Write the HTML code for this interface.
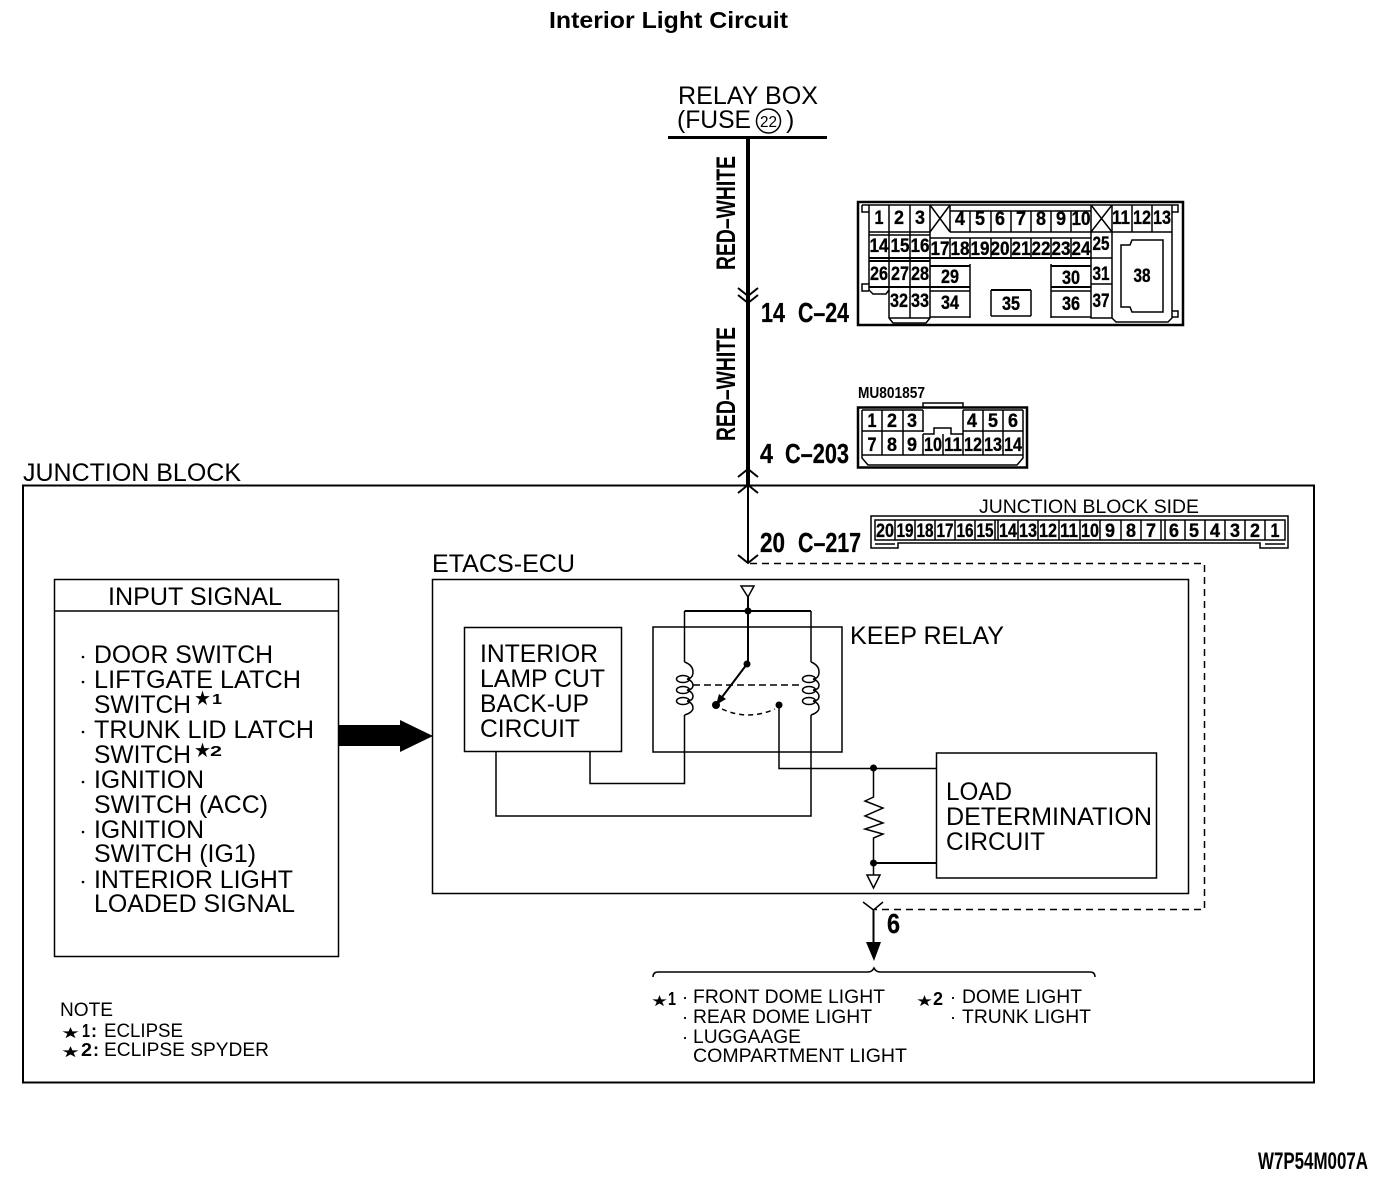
<!DOCTYPE html>
<html lang="en">
<head>
<meta charset="utf-8">
<title>Interior Light Circuit</title>
<style>
html,body{margin:0;padding:0;background:#fff;width:1392px;height:1178px;overflow:hidden}
svg{display:block}
text{font-family:"Liberation Sans",sans-serif;fill:#000}
.b{font-weight:bold}
.m{font-size:25px}
.s{font-size:19px}
.n{font-weight:bold;font-size:19px;text-anchor:middle;stroke:#000;stroke-width:.35px}
.l{font-weight:bold;font-size:28px;stroke:#000;stroke-width:.3px}
.st{font-family:"DejaVu Sans",sans-serif}
</style>
</head>
<body>
<svg width="1392" height="1178" viewBox="0 0 1392 1178" xmlns="http://www.w3.org/2000/svg">
<rect width="1392" height="1178" fill="#fff"/>

<text class="b" x="549" y="28" font-size="23" textLength="239" lengthAdjust="spacingAndGlyphs">Interior Light Circuit</text>

<!-- relay box -->
<text class="m" x="678" y="104" textLength="140" lengthAdjust="spacingAndGlyphs">RELAY BOX</text>
<text class="m" x="677" y="128" textLength="74" lengthAdjust="spacingAndGlyphs">(FUSE</text>
<circle cx="768.5" cy="121" r="12" fill="none" stroke="#000" stroke-width="1.5"/>
<text x="768.5" y="127" font-size="16" text-anchor="middle" textLength="17" lengthAdjust="spacingAndGlyphs">22</text>
<text class="m" x="786" y="128">)</text>
<path d="M668 137.5H827" stroke="#000" stroke-width="3" fill="none"/>

<!-- main wire -->
<path d="M748 137V485" stroke="#000" stroke-width="4" fill="none"/>
<path d="M748 485V563" stroke="#000" stroke-width="2" fill="none"/>
<path d="M738 288L748 296L758 288M738 295L748 303L758 295M738 477L748 469L758 477M738 493L748 485L758 493M738 555L748 563L758 555" stroke="#000" stroke-width="2" fill="none"/>

<text class="b" transform="translate(735,270) rotate(-90)" font-size="27" textLength="114" lengthAdjust="spacingAndGlyphs">RED–WHITE</text>
<text class="b" transform="translate(735,441) rotate(-90)" font-size="27" textLength="114" lengthAdjust="spacingAndGlyphs">RED–WHITE</text>

<text class="l" x="761" y="322" textLength="24" lengthAdjust="spacingAndGlyphs">14</text>
<text class="l" x="798" y="322" textLength="51" lengthAdjust="spacingAndGlyphs">C–24</text>
<text class="l" x="760" y="463" textLength="13" lengthAdjust="spacingAndGlyphs">4</text>
<text class="l" x="785" y="463" textLength="64" lengthAdjust="spacingAndGlyphs">C–203</text>
<text class="l" x="760" y="552" textLength="25" lengthAdjust="spacingAndGlyphs">20</text>
<text class="l" x="798" y="552" textLength="63" lengthAdjust="spacingAndGlyphs">C–217</text>

<!-- C-24 connector -->
<rect x="858" y="202" width="325" height="123" fill="none" stroke="#000" stroke-width="2.5"/>
<g fill="none" stroke="#000" stroke-width="1.5">
<path d="M862 205H1178V212H1172M862 205V212H869M869 284H862V291H869M1172 311H1178V317H1172"/>
<path d="M869 205V290L873 294H886L889 290M889 205V318L893 323H926L930 318V205M910 205V318"/>
<path d="M889 318H930M950 205V232M1091 205V318H1112M1112 205V318L1116 322H1168L1172 318V205"/>
<path d="M930 205L950 232M950 205L930 232M1091 205L1112 232M1112 205L1091 232"/>
<path d="M950 211H1091M970 211V232M991 211V232M1011 211V232M1031 211V232M1051 211V232M1071 211V232"/>
<path d="M869 232H930M950 232H1091M1112 232H1172M1132 205V232M1152 205V232M1091 232H1112"/>
<path d="M869 235H930M930 238H1091M950 238V258M970 238V258M991 238V258M1011 238V258M1031 238V258M1051 238V258M1071 238V258"/>
<path stroke-width="2" d="M869 258H1091M869 261H930"/>
<path d="M1091 258H1112M1091 284H1112"/>
<path stroke-width="2" d="M930 266H970M1051 266H1091"/>
<path stroke-width="2" d="M869 287H970M1051 287H1091"/>
<path d="M930 291H970M1051 291H1091M930 317H970M1051 317H1091M970 264V318M1051 264V318"/>
<path stroke-width="2" d="M991 290H1031"/>
<path d="M991 290V316M1031 290V316M991 316H1031"/>
<path d="M1121 245H1130L1132 240H1163V312H1132L1130 307H1121Z"/>
</g>
<g class="c24">
<text class="n" x="879" y="224" textLength="9" lengthAdjust="spacingAndGlyphs">1</text>
<text class="n" x="899" y="224" textLength="10" lengthAdjust="spacingAndGlyphs">2</text>
<text class="n" x="920" y="224" textLength="10" lengthAdjust="spacingAndGlyphs">3</text>
<text class="n" x="960" y="225" textLength="10" lengthAdjust="spacingAndGlyphs">4</text>
<text class="n" x="980" y="225" textLength="10" lengthAdjust="spacingAndGlyphs">5</text>
<text class="n" x="1000" y="225" textLength="10" lengthAdjust="spacingAndGlyphs">6</text>
<text class="n" x="1021" y="225" textLength="10" lengthAdjust="spacingAndGlyphs">7</text>
<text class="n" x="1041" y="225" textLength="10" lengthAdjust="spacingAndGlyphs">8</text>
<text class="n" x="1061" y="225" textLength="10" lengthAdjust="spacingAndGlyphs">9</text>
<text class="n" x="1081" y="225" textLength="19" lengthAdjust="spacingAndGlyphs">10</text>
<text class="n" x="1121" y="224" textLength="18" lengthAdjust="spacingAndGlyphs">11</text>
<text class="n" x="1142" y="224" textLength="18" lengthAdjust="spacingAndGlyphs">12</text>
<text class="n" x="1162" y="224" textLength="18" lengthAdjust="spacingAndGlyphs">13</text>
<text class="n" x="879" y="252" textLength="19" lengthAdjust="spacingAndGlyphs">14</text>
<text class="n" x="900" y="252" textLength="19" lengthAdjust="spacingAndGlyphs">15</text>
<text class="n" x="920" y="252" textLength="19" lengthAdjust="spacingAndGlyphs">16</text>
<text class="n" x="940" y="255" textLength="19" lengthAdjust="spacingAndGlyphs">17</text>
<text class="n" x="960" y="255" textLength="19" lengthAdjust="spacingAndGlyphs">18</text>
<text class="n" x="980" y="255" textLength="19" lengthAdjust="spacingAndGlyphs">19</text>
<text class="n" x="1000" y="255" textLength="19" lengthAdjust="spacingAndGlyphs">20</text>
<text class="n" x="1021" y="255" textLength="19" lengthAdjust="spacingAndGlyphs">21</text>
<text class="n" x="1041" y="255" textLength="19" lengthAdjust="spacingAndGlyphs">22</text>
<text class="n" x="1061" y="255" textLength="19" lengthAdjust="spacingAndGlyphs">23</text>
<text class="n" x="1081" y="255" textLength="19" lengthAdjust="spacingAndGlyphs">24</text>
<text class="n" x="1101" y="250" textLength="17" lengthAdjust="spacingAndGlyphs">25</text>
<text class="n" x="879" y="280" textLength="18" lengthAdjust="spacingAndGlyphs">26</text>
<text class="n" x="900" y="280" textLength="18" lengthAdjust="spacingAndGlyphs">27</text>
<text class="n" x="920" y="280" textLength="18" lengthAdjust="spacingAndGlyphs">28</text>
<text class="n" x="950" y="283" textLength="18" lengthAdjust="spacingAndGlyphs">29</text>
<text class="n" x="1071" y="284" textLength="18" lengthAdjust="spacingAndGlyphs">30</text>
<text class="n" x="1101" y="280" textLength="17" lengthAdjust="spacingAndGlyphs">31</text>
<text class="n" x="899" y="307" textLength="18" lengthAdjust="spacingAndGlyphs">32</text>
<text class="n" x="920" y="307" textLength="18" lengthAdjust="spacingAndGlyphs">33</text>
<text class="n" x="950" y="309" textLength="18" lengthAdjust="spacingAndGlyphs">34</text>
<text class="n" x="1011" y="310" textLength="18" lengthAdjust="spacingAndGlyphs">35</text>
<text class="n" x="1071" y="310" textLength="18" lengthAdjust="spacingAndGlyphs">36</text>
<text class="n" x="1101" y="307" textLength="17" lengthAdjust="spacingAndGlyphs">37</text>
<text class="n" x="1142" y="282" textLength="17" lengthAdjust="spacingAndGlyphs">38</text>
</g>

<!-- C-203 connector -->
<text class="b" x="858" y="398" font-size="16" textLength="67" lengthAdjust="spacingAndGlyphs">MU801857</text>
<rect x="858" y="407.5" width="169" height="60" fill="none" stroke="#000" stroke-width="2.5"/>
<g fill="none" stroke="#000" stroke-width="1.5">
<path d="M923 407V403H963V407"/>
<path d="M862 410H923M963 410H1023M862 410V458L868 465H1017L1023 458V410"/>
<path d="M882 410V455M903 410V455M923 410V432M963 410V455M983 410V455M1003 410V455"/>
<path d="M862 431H923M923 434H934V428H951V434H963M963 431H1023M923 434V455M943 434V455"/>
<path d="M862 455H1023"/>
</g>
<g>
<text class="n" x="872" y="427" textLength="9" lengthAdjust="spacingAndGlyphs">1</text>
<text class="n" x="892" y="427" textLength="10" lengthAdjust="spacingAndGlyphs">2</text>
<text class="n" x="912" y="427" textLength="10" lengthAdjust="spacingAndGlyphs">3</text>
<text class="n" x="972" y="427" textLength="10" lengthAdjust="spacingAndGlyphs">4</text>
<text class="n" x="993" y="427" textLength="10" lengthAdjust="spacingAndGlyphs">5</text>
<text class="n" x="1013" y="427" textLength="10" lengthAdjust="spacingAndGlyphs">6</text>
<text class="n" x="872" y="451" textLength="9" lengthAdjust="spacingAndGlyphs">7</text>
<text class="n" x="892" y="451" textLength="10" lengthAdjust="spacingAndGlyphs">8</text>
<text class="n" x="912" y="451" textLength="10" lengthAdjust="spacingAndGlyphs">9</text>
<text class="n" x="933" y="451" textLength="18" lengthAdjust="spacingAndGlyphs">10</text>
<text class="n" x="953" y="451" textLength="18" lengthAdjust="spacingAndGlyphs">11</text>
<text class="n" x="973" y="451" textLength="18" lengthAdjust="spacingAndGlyphs">12</text>
<text class="n" x="993" y="451" textLength="18" lengthAdjust="spacingAndGlyphs">13</text>
<text class="n" x="1013" y="451" textLength="18" lengthAdjust="spacingAndGlyphs">14</text>
</g>

<!-- junction block -->
<text class="m" x="23" y="481" textLength="218" lengthAdjust="spacingAndGlyphs">JUNCTION BLOCK</text>
<rect x="23" y="485.5" width="1291" height="597" fill="none" stroke="#000" stroke-width="2"/>

<!-- C-217 connector -->
<text x="979" y="513" font-size="19" textLength="220" lengthAdjust="spacingAndGlyphs">JUNCTION BLOCK SIDE</text>
<g fill="none" stroke="#000" stroke-width="1.5">
<path d="M871 516H1288V548H1260V543H898V548H871Z"/>
<path d="M875 520H1285V540H875Z"/>
<path d="M895 520V540M915 520V540M935 520V540M955 520V540M975 520V540M995 520V540M998 520V540M1018 520V540M1038 520V540M1059 520V540M1080 520V540M1100 520V540M1121 520V540M1141 520V540M1161 520V540M1165 520V540M1185 520V540M1205 520V540M1225 520V540M1245 520V540M1265 520V540"/>
<path d="M875 544H895M1265 544H1285"/>
</g>
<g>
<text class="n" x="885" y="537" textLength="18" lengthAdjust="spacingAndGlyphs">20</text>
<text class="n" x="905" y="537" textLength="17" lengthAdjust="spacingAndGlyphs">19</text>
<text class="n" x="925" y="537" textLength="17" lengthAdjust="spacingAndGlyphs">18</text>
<text class="n" x="945" y="537" textLength="17" lengthAdjust="spacingAndGlyphs">17</text>
<text class="n" x="965" y="537" textLength="17" lengthAdjust="spacingAndGlyphs">16</text>
<text class="n" x="985" y="537" textLength="17" lengthAdjust="spacingAndGlyphs">15</text>
<text class="n" x="1008" y="537" textLength="18" lengthAdjust="spacingAndGlyphs">14</text>
<text class="n" x="1028" y="537" textLength="18" lengthAdjust="spacingAndGlyphs">13</text>
<text class="n" x="1048" y="537" textLength="18" lengthAdjust="spacingAndGlyphs">12</text>
<text class="n" x="1069" y="537" textLength="18" lengthAdjust="spacingAndGlyphs">11</text>
<text class="n" x="1090" y="537" textLength="18" lengthAdjust="spacingAndGlyphs">10</text>
<text class="n" x="1110" y="537" textLength="10" lengthAdjust="spacingAndGlyphs">9</text>
<text class="n" x="1131" y="537" textLength="10" lengthAdjust="spacingAndGlyphs">8</text>
<text class="n" x="1151" y="537" textLength="10" lengthAdjust="spacingAndGlyphs">7</text>
<text class="n" x="1174" y="537" textLength="10" lengthAdjust="spacingAndGlyphs">6</text>
<text class="n" x="1194" y="537" textLength="10" lengthAdjust="spacingAndGlyphs">5</text>
<text class="n" x="1215" y="537" textLength="10" lengthAdjust="spacingAndGlyphs">4</text>
<text class="n" x="1235" y="537" textLength="10" lengthAdjust="spacingAndGlyphs">3</text>
<text class="n" x="1255" y="537" textLength="10" lengthAdjust="spacingAndGlyphs">2</text>
<text class="n" x="1275" y="537" textLength="9" lengthAdjust="spacingAndGlyphs">1</text>
</g>

<!-- dashed line from C-217 to pin 6 -->
<path d="M750 563.5H1204.5V909.5H875" fill="none" stroke="#000" stroke-width="1.5" stroke-dasharray="7 5"/>

<!-- ETACS-ECU -->
<text class="m" x="432" y="572" textLength="143" lengthAdjust="spacingAndGlyphs">ETACS-ECU</text>
<rect x="432.5" y="579.5" width="756" height="314" fill="none" stroke="#000" stroke-width="1.5"/>

<!-- input signal -->
<rect x="54.5" y="579.5" width="284" height="377" fill="none" stroke="#000" stroke-width="1.5"/>
<path d="M54 611H338" stroke="#000" stroke-width="1.5"/>
<text class="m" x="108" y="605" textLength="174" lengthAdjust="spacingAndGlyphs">INPUT SIGNAL</text>
<g fill="#000">
<circle cx="83" cy="657" r="1.3"/><circle cx="83" cy="682" r="1.3"/><circle cx="83" cy="732" r="1.3"/><circle cx="83" cy="782" r="1.3"/><circle cx="83" cy="832" r="1.3"/><circle cx="83" cy="882" r="1.3"/>
</g>
<text class="m" x="94" y="663" textLength="179" lengthAdjust="spacingAndGlyphs">DOOR SWITCH</text>
<text class="m" x="94" y="688" textLength="207" lengthAdjust="spacingAndGlyphs">LIFTGATE LATCH</text>
<text class="m" x="94" y="713" textLength="97" lengthAdjust="spacingAndGlyphs">SWITCH</text>
<text class="st" x="194" y="705" font-size="20" textLength="17" lengthAdjust="spacingAndGlyphs">★</text>
<text class="b" x="212" y="704" font-size="15" textLength="10" lengthAdjust="spacingAndGlyphs">1</text>
<text class="m" x="94" y="738" textLength="220" lengthAdjust="spacingAndGlyphs">TRUNK LID LATCH</text>
<text class="m" x="94" y="763" textLength="97" lengthAdjust="spacingAndGlyphs">SWITCH</text>
<text class="st" x="194" y="757" font-size="20" textLength="17" lengthAdjust="spacingAndGlyphs">★</text>
<text class="b" x="210" y="756" font-size="15" textLength="12" lengthAdjust="spacingAndGlyphs">2</text>
<text class="m" x="94" y="788" textLength="110" lengthAdjust="spacingAndGlyphs">IGNITION</text>
<text class="m" x="94" y="813" textLength="174" lengthAdjust="spacingAndGlyphs">SWITCH (ACC)</text>
<text class="m" x="94" y="838" textLength="110" lengthAdjust="spacingAndGlyphs">IGNITION</text>
<text class="m" x="94" y="862" textLength="162" lengthAdjust="spacingAndGlyphs">SWITCH (IG1)</text>
<text class="m" x="94" y="888" textLength="199" lengthAdjust="spacingAndGlyphs">INTERIOR LIGHT</text>
<text class="m" x="94" y="912" textLength="201" lengthAdjust="spacingAndGlyphs">LOADED SIGNAL</text>

<!-- big arrow -->
<path d="M339 725H400V720L433 736L400 752V746H339Z" fill="#000"/>

<!-- interior lamp -->
<rect x="464.5" y="627.5" width="157" height="124" fill="none" stroke="#000" stroke-width="1.5"/>
<text class="m" x="480" y="662" textLength="118" lengthAdjust="spacingAndGlyphs">INTERIOR</text>
<text class="m" x="480" y="687" textLength="125" lengthAdjust="spacingAndGlyphs">LAMP CUT</text>
<text class="m" x="480" y="712" textLength="109" lengthAdjust="spacingAndGlyphs">BACK-UP</text>
<text class="m" x="480" y="737" textLength="100" lengthAdjust="spacingAndGlyphs">CIRCUIT</text>

<!-- keep relay -->
<rect x="653" y="627" width="189" height="125" fill="none" stroke="#000" stroke-width="1.5"/>
<text class="m" x="850" y="644" textLength="154" lengthAdjust="spacingAndGlyphs">KEEP RELAY</text>

<g fill="none" stroke="#000" stroke-width="1.5">
<path d="M741 586H754L748 597Z" fill="#fff"/>
<path stroke-width="2" d="M748 597V664M684.5 611H811"/>
<path d="M684.5 611V662M811 611V662"/>
<path stroke-width="1.5" d="M684.5 715V783.5H590V752M811 715V816H496V752"/>
<path d="M684.5 662C690 664 693 667 693 672C693 677 690 679 687 679C691 680 693 683 693 685C693 688 691 690 687 690C691 691 693 694 693 696C693 699 691 701 687 701C691 702 693 705 693 708C693 711 689 714 684.5 715"/>
<path d="M811 662C816 664 819 667 819 672C819 677 816 679 813 679C817 680 819 683 819 685C819 688 817 690 813 690C817 691 819 694 819 696C819 699 817 701 813 701C817 702 819 705 819 708C819 711 815 714 811 715"/>
<ellipse cx="683" cy="679" rx="6.5" ry="3.5"/><ellipse cx="683" cy="690" rx="6.5" ry="3.5"/><ellipse cx="683" cy="701" rx="6.5" ry="3.5"/>
<ellipse cx="809" cy="679" rx="6.5" ry="3.5"/><ellipse cx="809" cy="690" rx="6.5" ry="3.5"/><ellipse cx="809" cy="701" rx="6.5" ry="3.5"/>
<path stroke-width="1.5" stroke-dasharray="7 4" d="M693 685H800"/>
<path stroke-width="1.5" stroke-dasharray="5 4" d="M722 709Q748 721 775 709"/>
<path stroke-width="2" d="M747 664L716 705"/>
<path stroke-width="1.5" d="M779 705V768.5H936"/>
<path stroke-width="1.5" d="M873.5 768V797L865 801L883 808L865 816L883 823L865 829L883 834L873.5 838V875"/>
<path stroke-width="2" d="M873.5 863H936"/>
<path d="M867 875H880L873.5 888Z" fill="#fff"/>
</g>
<g fill="#000">
<circle cx="748" cy="611" r="3.5"/>
<circle cx="747" cy="664" r="3.5"/>
<circle cx="716" cy="705" r="4"/>
<circle cx="779" cy="705" r="3.5"/>
<circle cx="873.5" cy="768" r="3.5"/>
<circle cx="873.5" cy="863" r="3.5"/>
<path d="M716 705L719 694L726 699Z"/>
</g>

<!-- load determination -->
<rect x="936.5" y="753" width="220" height="125" fill="none" stroke="#000" stroke-width="1.5"/>
<text class="m" x="946" y="800" textLength="66" lengthAdjust="spacingAndGlyphs">LOAD</text>
<text class="m" x="946" y="825" textLength="206" lengthAdjust="spacingAndGlyphs">DETERMINATION</text>
<text class="m" x="946" y="850" textLength="99" lengthAdjust="spacingAndGlyphs">CIRCUIT</text>

<!-- pin 6 -->
<path d="M863 902L873.5 910L883 902" fill="none" stroke="#000" stroke-width="1.5"/>
<path d="M873.5 910V945" stroke="#000" stroke-width="2"/>
<path d="M866 942H881L874 961Z" fill="#000"/>
<text class="l" x="887" y="933" textLength="13" lengthAdjust="spacingAndGlyphs">6</text>
<path d="M653 977Q653 972 658 972H868Q872 972 874 968Q876 972 880 972H1090Q1095 972 1095 977" fill="none" stroke="#000" stroke-width="1.5"/>

<!-- lists -->
<text class="st" x="651" y="1006" font-size="15" textLength="17" lengthAdjust="spacingAndGlyphs">★</text>
<text class="b" x="668" y="1005" font-size="18" textLength="8" lengthAdjust="spacingAndGlyphs">1</text>
<g fill="#000"><circle cx="685" cy="998" r="1.1"/><circle cx="685" cy="1018" r="1.1"/><circle cx="685" cy="1038" r="1.1"/><circle cx="953" cy="998" r="1.1"/><circle cx="953" cy="1018" r="1.1"/></g>
<text class="s" x="693" y="1003" textLength="192" lengthAdjust="spacingAndGlyphs">FRONT DOME LIGHT</text>
<text class="s" x="693" y="1023" textLength="179" lengthAdjust="spacingAndGlyphs">REAR DOME LIGHT</text>
<text class="s" x="693" y="1043" textLength="108" lengthAdjust="spacingAndGlyphs">LUGGAAGE</text>
<text class="s" x="693" y="1062" textLength="214" lengthAdjust="spacingAndGlyphs">COMPARTMENT LIGHT</text>
<text class="st" x="916" y="1006" font-size="15" textLength="17" lengthAdjust="spacingAndGlyphs">★</text>
<text class="b" x="933" y="1005" font-size="18" textLength="10" lengthAdjust="spacingAndGlyphs">2</text>
<text class="s" x="962" y="1003" textLength="120" lengthAdjust="spacingAndGlyphs">DOME LIGHT</text>
<text class="s" x="962" y="1023" textLength="129" lengthAdjust="spacingAndGlyphs">TRUNK LIGHT</text>

<!-- note -->
<text class="s" x="60" y="1016" textLength="53" lengthAdjust="spacingAndGlyphs">NOTE</text>
<text class="st" x="61" y="1038" font-size="15" textLength="19" lengthAdjust="spacingAndGlyphs">★</text>
<text class="b" x="82" y="1037" font-size="18" textLength="8" lengthAdjust="spacingAndGlyphs">1</text>
<text class="b" x="91" y="1037" font-size="18">:</text>
<text class="s" x="104" y="1037" textLength="79" lengthAdjust="spacingAndGlyphs">ECLIPSE</text>
<text class="st" x="61" y="1057" font-size="15" textLength="19" lengthAdjust="spacingAndGlyphs">★</text>
<text class="b" x="81" y="1056" font-size="18" textLength="11" lengthAdjust="spacingAndGlyphs">2</text>
<text class="b" x="93" y="1056" font-size="18">:</text>
<text class="s" x="104" y="1056" textLength="165" lengthAdjust="spacingAndGlyphs">ECLIPSE SPYDER</text>

<text class="b" x="1258" y="1169" font-size="24" textLength="110" lengthAdjust="spacingAndGlyphs">W7P54M007A</text>
</svg>
</body>
</html>
